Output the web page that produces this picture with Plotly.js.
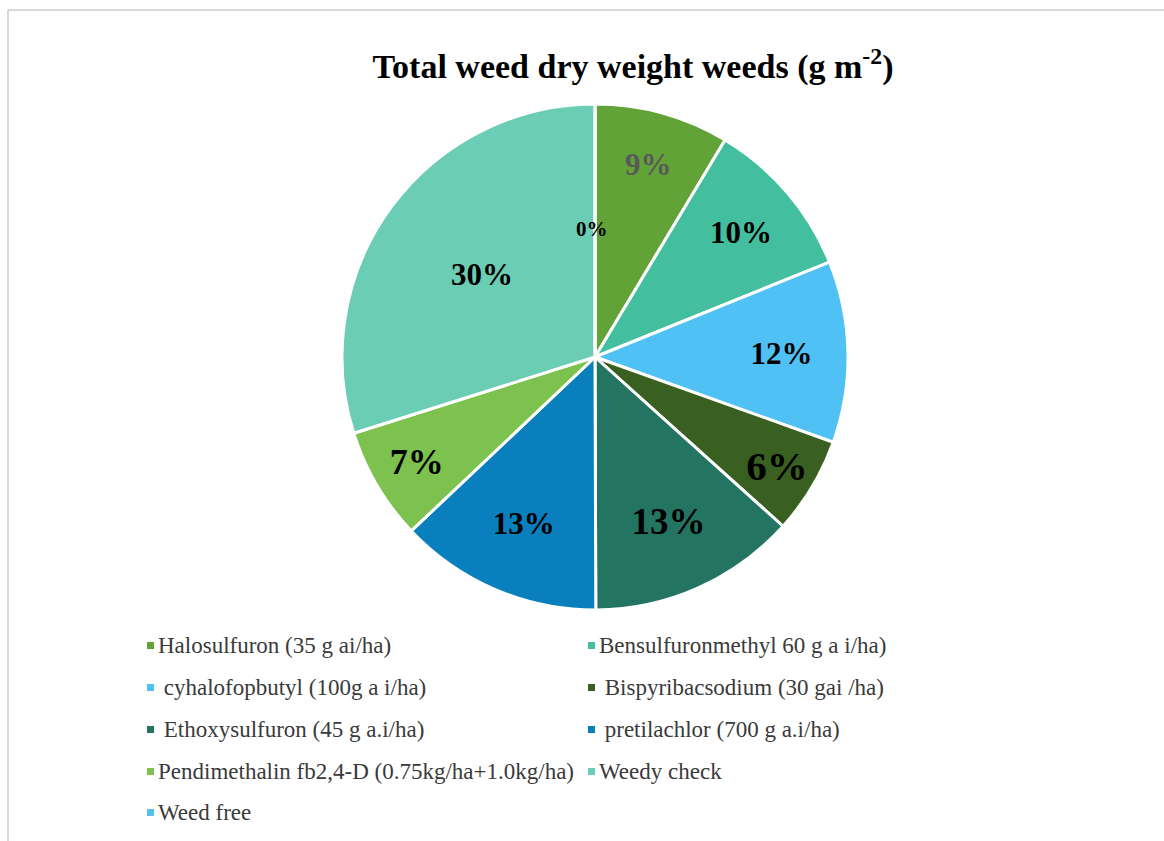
<!DOCTYPE html>
<html>
<head>
<meta charset="utf-8">
<script src="https://cdn.plot.ly/plotly-3.0.1.min.js"></script>
<style>
html,body{margin:0;padding:0;background:#fff;}
#chart{width:1164px;height:841px;}
</style>
</head>
<body>
<div id="chart"></div>
<script>
// ---- data ----
const treatments = [
  "Halosulfuron (35 g ai/ha)",
  "Bensulfuronmethyl 60 g a i/ha)",
  " cyhalofopbutyl (100g a i/ha)",
  " Bispyribacsodium (30 gai /ha)",
  " Ethoxysulfuron (45 g a.i/ha)",
  " pretilachlor (700 g a.i/ha)",
  "Pendimethalin fb2,4-D (0.75kg/ha+1.0kg/ha)",
  "Weedy check",
  "Weed free"
];
const dryWeightShare = [8.6, 10.3, 11.6, 6.2, 13.3, 13.0, 7.2, 29.9, 0];
const sliceColors = ["#62A338", "#43BFA0", "#4FC1F5", "#3A6021", "#237562", "#0A7FBD", "#7DC24F", "#6ACDB4", "#56C0F0"];
const labelColors = ["#595959", "#000", "#000", "#000", "#000", "#000", "#000", "#000", "#000"];
const labelSizes = [31, 31, 31, 41, 37, 31, 36, 31, 21];

const W = 1164, H = 841;
const px = x => x / W;
const py = y => 1 - y / H;

const trace = {
  type: "pie",
  labels: treatments.map(s => s.trim()),
  values: dryWeightShare,
  sort: false,
  direction: "clockwise",
  rotation: 0,
  marker: {colors: sliceColors, line: {color: "#ffffff", width: 3}},
  texttemplate: "%{percent:.0%}",
  textposition: "inside",
  insidetextorientation: "horizontal",
  textfont: {family: "Liberation Serif", color: labelColors, size: labelSizes, weight: "bold"},
  hoverinfo: "label+percent",
  showlegend: false,
  domain: {x: [px(340), px(850)], y: [py(610), py(104)]}
};

// frame of the chart area
const shapes = [
  {type: "line", xref: "paper", yref: "paper", x0: px(8), x1: px(1164), y0: py(10), y1: py(10), line: {color: "#d9d9d9", width: 2}},
  {type: "line", xref: "paper", yref: "paper", x0: px(8), x1: px(8), y0: py(10), y1: py(841), line: {color: "#d9d9d9", width: 2}}
];
const annotations = [];

// label for the zero-valued slice (Plotly draws no text for empty slices)
const total = dryWeightShare.reduce((a, b) => a + b, 0);
dryWeightShare.forEach((v, i) => {
  if (v === 0) {
    annotations.push({xref: "paper", yref: "paper", x: px(592), y: py(229), xanchor: "center", yanchor: "middle", showarrow: false,
      text: "<b>" + Math.round(v / total * 100) + "%</b>",
      font: {family: "Liberation Serif", size: labelSizes[i], color: labelColors[i]}});
  }
});

// legend laid out in two columns
const colX = [147, 588];
const rowY = [645, 687, 729, 771, 812];
treatments.forEach((name, i) => {
  const cx = colX[i % 2], cy = rowY[Math.floor(i / 2)];
  shapes.push({type: "rect", xref: "paper", yref: "paper", x0: px(cx), x1: px(cx + 7), y0: py(cy + 4), y1: py(cy - 3), fillcolor: sliceColors[i], line: {width: 0}});
  annotations.push({xref: "paper", yref: "paper", x: px(cx + 9), y: py(cy), xanchor: "left", yanchor: "middle", showarrow: false,
    text: name.replace(/^ /, "\u00a0"), font: {family: "Liberation Serif", size: 23, color: "#3a3a3a"}});
});

const layout = {
  width: W, height: H,
  margin: {l: 0, r: 0, t: 0, b: 0},
  paper_bgcolor: "#ffffff",
  title: {text: "<b>Total weed dry weight weeds (g m<sup>-2</sup>)</b>", x: px(633), xanchor: "center", y: py(66), yanchor: "middle",
    font: {family: "Liberation Serif", size: 34, color: "#000"}},
  shapes: shapes,
  annotations: annotations
};

Plotly.newPlot("chart", [trace], layout, {displayModeBar: false});
</script>
</body>
</html>
